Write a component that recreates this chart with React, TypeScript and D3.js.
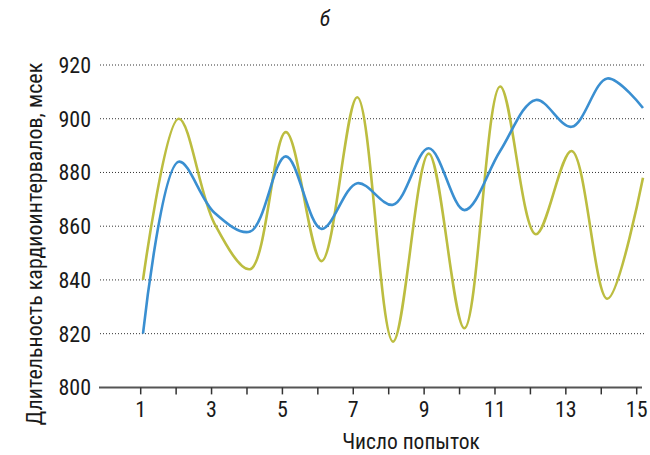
import React, { useEffect, useRef } from 'react';
import * as d3 from 'd3';

const trials = [1, 2, 3, 4, 5, 6, 7, 8, 9, 10, 11, 12, 13, 14, 15];
const blueSeries = [820, 884, 865, 858, 886, 859, 876, 868, 889, 866, 888, 907, 897, 915, 904];
const oliveSeries = [840, 900, 861, 844, 895, 847, 908, 817, 887, 822, 912, 857, 888, 833, 878];
const yTicks = [800, 820, 840, 860, 880, 900, 920];
const xLabelTicks = [1, 3, 5, 7, 9, 11, 13, 15];

const W = 650;
const H = 455;
const FONT = "'Liberation Sans Narrow', 'Roboto Condensed', 'DejaVu Sans Condensed', sans-serif";

const App: React.FC = () => {
  const svgRef = useRef<SVGSVGElement>(null);

  useEffect(() => {
    document.body.style.margin = '0';
    if (!svgRef.current) return;
    const svg = d3.select(svgRef.current);
    svg.selectAll('*').remove();

    // axis scale and the (slightly shifted) line scale, as in the original
    const x = d3.scaleLinear().domain([1, 15]).range([140.7, 636.7]);
    const xLine = d3.scaleLinear().domain([1, 15]).range([143, 643]);
    const y = d3.scaleLinear().domain([800, 920]).range([387.4, 65]);

    // Dotted gridlines
    svg.append('g')
      .selectAll('line')
      .data(yTicks.filter(t => t > 800))
      .enter()
      .append('line')
      .attr('x1', 100)
      .attr('x2', 644)
      .attr('y1', d => y(d))
      .attr('y2', d => y(d))
      .attr('stroke', '#333')
      .attr('stroke-width', 1)
      .attr('stroke-dasharray', '1,2');

    // y labels
    svg.append('g')
      .selectAll('text')
      .data(yTicks)
      .enter()
      .append('text')
      .attr('x', 91)
      .attr('y', d => y(d))
      .attr('dy', '0.36em')
      .attr('text-anchor', 'end')
      .attr('font-family', FONT)
      .attr('font-size', 22)
      .attr('fill', '#1a1a1a')
      .text(d => d);

    // x axis line and ticks
    svg.append('line')
      .attr('x1', 99)
      .attr('x2', 642)
      .attr('y1', y(800))
      .attr('y2', y(800))
      .attr('stroke', '#555')
      .attr('stroke-width', 2);

    svg.append('g')
      .selectAll('line')
      .data(trials)
      .enter()
      .append('line')
      .attr('x1', d => x(d))
      .attr('x2', d => x(d))
      .attr('y1', y(800))
      .attr('y2', y(800) + 7)
      .attr('stroke', '#333')
      .attr('stroke-width', 1.5);

    svg.append('g')
      .selectAll('text')
      .data(xLabelTicks)
      .enter()
      .append('text')
      .attr('x', d => x(d))
      .attr('y', 417)
      .attr('text-anchor', 'middle')
      .attr('font-family', FONT)
      .attr('font-size', 22)
      .attr('fill', '#1a1a1a')
      .text(d => d);

    // Lines
    const line = d3.line<number>()
      .x((_, i) => xLine(trials[i]))
      .y(d => y(d))
      .curve(d3.curveCatmullRom.alpha(0.5));

    svg.append('path')
      .attr('d', line(oliveSeries) as string)
      .attr('fill', 'none')
      .attr('stroke', '#bcbd40')
      .attr('stroke-width', 2.6);

    svg.append('path')
      .attr('d', line(blueSeries) as string)
      .attr('fill', 'none')
      .attr('stroke', '#3a8fd1')
      .attr('stroke-width', 2.6);

    // Titles
    svg.append('text')
      .attr('x', 325)
      .attr('y', 26)
      .attr('text-anchor', 'middle')
      .attr('font-family', FONT)
      .attr('font-style', 'italic')
      .attr('font-size', 22)
      .attr('fill', '#1a1a1a')
      .text('б');

    svg.append('text')
      .attr('x', 411)
      .attr('y', 449)
      .attr('text-anchor', 'middle')
      .attr('font-family', FONT)
      .attr('font-size', 21.5)
      .attr('fill', '#1a1a1a')
      .text('Число попыток');

    svg.append('text')
      .attr('transform', 'translate(42,244) rotate(-90)')
      .attr('text-anchor', 'middle')
      .attr('font-family', FONT)
      .attr('font-size', 22)
      .attr('fill', '#1a1a1a')
      .text('Длительность кардиоинтервалов, мсек');
  }, []);

  return <svg ref={svgRef} width={W} height={H} viewBox={`0 0 ${W} ${H}`} style={{ display: 'block', background: '#fff' }} />;
};

export default App;
